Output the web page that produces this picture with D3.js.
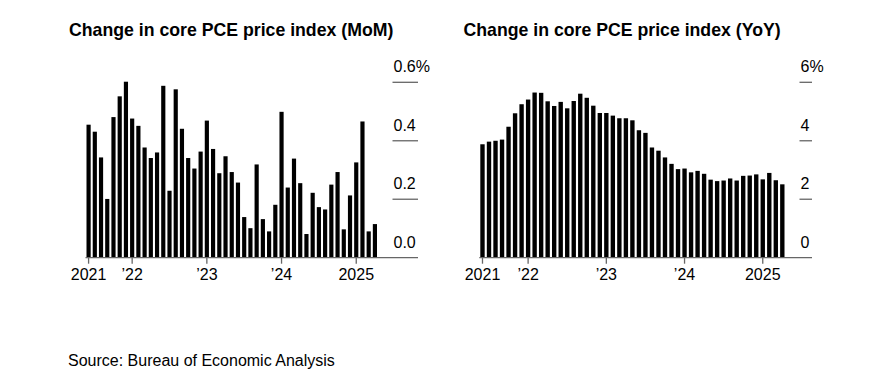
<!DOCTYPE html>
<html>
<head>
<meta charset="utf-8">
<script src="https://cdn.jsdelivr.net/npm/d3@7"></script>
<style>
body { margin: 0; background: #fff; }
text { font-family: "Liberation Sans", Arial, Helvetica, sans-serif; fill: #000; }
</style>
</head>
<body>
<svg id="chart" width="875" height="375"></svg>
<script>
// monthly data, Jun 2021 .. Apr 2025
var months = d3.timeMonth.range(new Date(2021, 5, 1), new Date(2025, 4, 1));

var momValues = [0.455, 0.431, 0.343, 0.201, 0.481, 0.552, 0.602, 0.476, 0.451, 0.377,
    0.341, 0.360, 0.588, 0.229, 0.576, 0.441, 0.341, 0.305, 0.363, 0.469,
    0.372, 0.289, 0.347, 0.293, 0.257, 0.139, 0.101, 0.319, 0.132, 0.090,
    0.181, 0.499, 0.240, 0.339, 0.255, 0.081, 0.222, 0.173, 0.165, 0.250,
    0.293, 0.097, 0.213, 0.326, 0.466, 0.090, 0.115];

var yoyValues = [3.88, 3.97, 4.00, 4.04, 4.48, 4.94, 5.25, 5.41, 5.65, 5.64,
    5.35, 5.19, 5.33, 5.11, 5.36, 5.61, 5.47, 5.20, 4.95, 4.95,
    4.86, 4.77, 4.77, 4.70, 4.36, 4.27, 3.77, 3.66, 3.43, 3.21,
    3.03, 3.05, 2.92, 2.97, 2.87, 2.67, 2.62, 2.64, 2.71, 2.64,
    2.80, 2.81, 2.85, 2.68, 2.90, 2.65, 2.51];

var xTickIndex = [0, 7, 19, 31, 43];
var xTickLabels = ["2021", "\u201922", "\u201923", "\u201924", "2025"];

var momTicks = [0, 0.2, 0.4, 0.6];
var momTickLabels = ["0.0", "0.2", "0.4", "0.6%"];
var yoyTicks = [0, 2, 4, 6];
var yoyTickLabels = ["0", "2", "4", "6%"];

var baseY = 257.7;
var topY = 82.3;
var svg = d3.select("#chart");

function drawPanel(p) {
    var g = svg.append("g");

    var x = d3.scaleBand()
        .domain(d3.range(months.length))
        .range([p.left, p.right])
        .paddingInner(0.33)
        .paddingOuter(0);

    var y = d3.scaleLinear()
        .domain([0, p.ticks[p.ticks.length - 1]])
        .range([baseY, topY]);

    // title
    g.append("text")
        .attr("x", p.titleX)
        .attr("y", 36)
        .style("font-size", "17.7px")
        .style("font-weight", "bold")
        .text(p.title);

    // bars
    g.selectAll("rect.bar")
        .data(p.values).enter()
        .append("rect")
        .attr("class", "bar")
        .attr("x", function(d, i) { return x(i); })
        .attr("y", function(d) { return y(d); })
        .attr("width", x.bandwidth())
        .attr("height", function(d) { return baseY - y(d); })
        .style("fill", "#000");

    // baseline
    g.append("line")
        .attr("x1", p.left - 1)
        .attr("x2", p.axisEnd)
        .attr("y1", baseY)
        .attr("y2", baseY)
        .style("stroke", "#666")
        .style("stroke-width", 1.3);

    // right side y ticks + labels
    var yt = g.selectAll("g.ytick")
        .data(p.ticks).enter()
        .append("g")
        .attr("class", "ytick")
        .attr("transform", function(d) { return "translate(0," + y(d) + ")"; });

    yt.filter(function(d) { return d > 0; })
        .append("line")
        .attr("x1", p.labelX - 1)
        .attr("x2", p.axisEnd)
        .style("stroke", "#666")
        .style("stroke-width", 1.3);

    yt.append("text")
        .attr("x", p.labelX)
        .attr("y", -10)
        .style("font-size", "16px")
        .text(function(d, i) { return p.tickLabels[i]; });

    // x ticks
    var xt = g.selectAll("g.xtick")
        .data(xTickIndex).enter()
        .append("g")
        .attr("class", "xtick")
        .attr("transform", function(d) {
            return "translate(" + (x(d) + x.bandwidth() / 2) + "," + baseY + ")";
        });

    xt.append("line")
        .attr("y1", 0)
        .attr("y2", 6)
        .style("stroke", "#666")
        .style("stroke-width", 1.3);

    xt.append("text")
        .attr("y", 22.5)
        .attr("text-anchor", "middle")
        .style("font-size", "16px")
        .text(function(d, i) { return xTickLabels[i]; });
}

drawPanel({
    title: "Change in core PCE price index (MoM)",
    titleX: 69,
    left: 86.5,
    right: 377,
    axisEnd: 418,
    labelX: 393.5,
    values: momValues,
    ticks: momTicks,
    tickLabels: momTickLabels
});

drawPanel({
    title: "Change in core PCE price index (YoY)",
    titleX: 463.5,
    left: 480.3,
    right: 784.5,
    axisEnd: 812,
    labelX: 800.5,
    values: yoyValues,
    ticks: yoyTicks,
    tickLabels: yoyTickLabels
});

// source note
svg.append("text")
    .attr("x", 68)
    .attr("y", 366)
    .style("font-size", "16px")
    .text("Source: Bureau of Economic Analysis");
</script>
</body>
</html>
